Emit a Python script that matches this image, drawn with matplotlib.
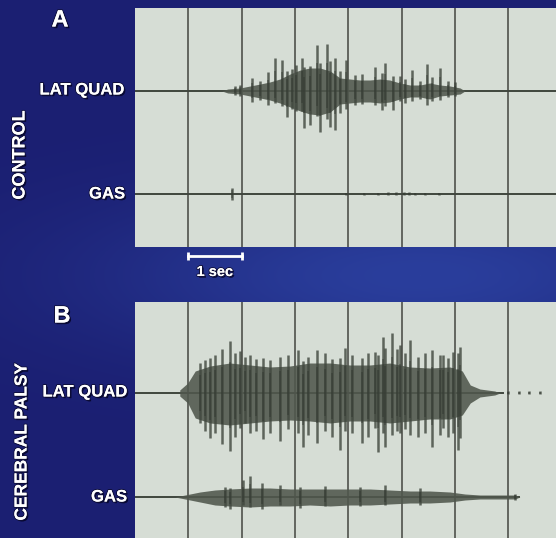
import numpy as np
import matplotlib
matplotlib.use('Agg')
import matplotlib.pyplot as plt
import matplotlib.patheffects as pe

# ---- data (time in s, amplitude in arbitrary units) ----
# Panel A, control, LAT QUAD: dense burst envelope
a_quad_t = [1.63, 1.74, 1.97, 2.16, 2.35, 2.53, 2.72, 2.91, 3.10, 3.28, 3.47, 3.66, 3.85,
            4.03, 4.22, 4.41, 4.60, 4.78, 4.97, 5.16, 5.35, 5.53, 5.72, 5.91, 6.10, 6.19]
a_quad_up = [0, 2, 3, 5, 7, 9, 12, 17, 21, 23, 23, 20, 13, 12, 11, 11, 12, 11, 8, 6, 6, 8, 6, 5, 3, 0]
a_quad_dn = [0, 2, 3, 5, 7, 9, 12, 16, 20, 23, 24, 21, 13, 12, 11, 11, 12, 11, 8, 6, 6, 8, 5, 4, 3, 0]
# spikes
a_quad_sp_t = [1.88, 1.97, 2.20, 2.35, 2.50, 2.63, 2.76, 2.85, 2.95, 3.02, 3.13, 3.17, 3.28, 3.41,
               3.47, 3.60, 3.66, 3.75, 3.85, 3.96, 4.13, 4.26, 4.50, 4.63, 4.69, 4.84, 4.97,
               5.07, 5.20, 5.35, 5.48, 5.57, 5.72, 5.87, 6.00]
a_quad_sp_up = [5, 6, 13, 10, 19, 33, 31, 20, 22, 26, 33, 24, 25, 46, 28, 47, 30, 33, 20, 31, 16,
                17, 24, 18, 28, 15, 15, 12, 21, 10, 27, 14, 23, 10, 9]
a_quad_sp_dn = [4, 5, 11, 9, 14, 12, 15, 26, 18, 20, 20, 37, 34, 25, 41, 28, 36, 39, 22, 18, 14,
                13, 14, 19, 15, 19, 10, 12, 10, 8, 14, 10, 9, 6, 5]

# Panel A, control, GAS: almost silent
a_gas_sp_t = [1.82, 3.95, 4.30, 4.55, 4.75, 4.90, 5.05, 5.15, 5.25, 5.45, 5.70]
a_gas_sp_up = [6, 1, 1, 1, 2, 2, 2, 2, 1, 1, 1]
a_gas_sp_dn = [6, 1, 1, 1, 1, 1, 1, 1, 1, 1, 1]

# Panel B, cerebral palsy, LAT QUAD
b_quad_t = [0.84, 0.99, 1.13, 1.41, 1.78, 2.16, 2.53, 2.91, 3.28, 3.66, 4.03, 4.41, 4.78,
            5.16, 5.53, 5.91, 6.14, 6.29, 6.47, 6.75, 6.85]
b_quad_up = [3, 10, 22, 27, 30, 28, 26, 27, 30, 30, 28, 28, 30, 26, 25, 26, 22, 8, 4, 2, 0]
b_quad_dn = [3, 10, 25, 30, 32, 30, 28, 27, 28, 30, 28, 28, 30, 28, 26, 26, 22, 10, 4, 2, 0]
b_quad_sp_t = [1.22, 1.31, 1.41, 1.50, 1.63, 1.78, 1.88, 1.97, 2.06, 2.16, 2.27, 2.40, 2.53,
               2.72, 2.87, 3.06, 3.15, 3.25, 3.41, 3.56, 3.70, 3.85, 3.94, 4.07, 4.26, 4.37,
               4.50, 4.56, 4.65, 4.69, 4.82, 4.92, 4.97, 5.07, 5.16, 5.31, 5.44, 5.57, 5.72,
               5.78, 5.87, 5.97, 6.06, 6.10, 7.0, 7.2, 7.4, 7.6]
b_quad_sp_up = [30, 33, 35, 38, 44, 52, 40, 42, 36, 38, 34, 35, 33, 36, 38, 43, 32, 36, 43, 40,
                34, 35, 45, 38, 35, 40, 41, 38, 56, 45, 60, 44, 48, 40, 53, 36, 40, 43, 38,
                38, 35, 41, 40, 46, 2, 2, 2, 2]
b_quad_sp_dn = [30, 38, 45, 40, 51, 58, 44, 35, 30, 40, 38, 46, 40, 48, 36, 40, 54, 42, 50, 38,
                44, 57, 38, 40, 50, 44, 35, 59, 40, 54, 42, 38, 40, 36, 42, 44, 40, 54, 42,
                35, 44, 40, 57, 45, 1, 1, 1, 1]

# Panel B, cerebral palsy, GAS
b_gas_t = [0.75, 0.94, 1.22, 1.50, 1.78, 2.16, 2.53, 2.91, 3.28, 3.66, 4.03, 4.41, 4.78,
           5.16, 5.53, 5.91, 6.19, 6.47, 6.85, 7.13, 7.22]
b_gas_up = [0, 2, 5, 7, 8, 9, 9, 8, 8, 8, 8, 8, 7, 6, 6, 5, 3, 2, 2, 2, 0]
b_gas_dn = [0, 2, 5, 8, 9, 10, 9, 9, 8, 9, 8, 8, 7, 6, 6, 5, 3, 2, 2, 2, 0]
b_gas_sp_t = [1.69, 1.78, 2.03, 2.16, 2.38, 2.72, 3.10, 3.56, 4.22, 4.69, 5.35, 7.13]
b_gas_sp_up = [10, 9, 17, 21, 14, 12, 10, 11, 10, 12, 9, 3]
b_gas_sp_dn = [10, 12, 8, 10, 12, 8, 11, 9, 9, 8, 8, 3]

# ---- layout ----
W, H = 556, 538
PX_PER_S = 53.3
PAPER = '#d6ddd5'
GRID = '#62655f'
CORE = '#50574d'
INK = '#3f463d'
WHITE = 'white'

fig = plt.figure(figsize=(W / 100, H / 100), dpi=100)

# navy background, a bit lighter between the two panels
bg = fig.add_axes([0, 0, 1, 1])
yy, xx = np.mgrid[0:H, 0:W]
glow = np.exp(-((xx - 420) ** 2 / (2 * 220 ** 2) + (yy - 275) ** 2 / (2 * 60 ** 2)))
dark = np.array([0x1b, 0x1f, 0x72]) / 255
light = np.array([0x2a, 0x3e, 0x9c]) / 255
img = dark + (light - dark) * glow[..., None]
bg.imshow(img, extent=[0, W, H, 0], aspect='auto')
bg.set_axis_off()

shadow = [pe.withSimplePatchShadow(offset=(1.2, -1.2), shadow_rgbFace='#05052a', alpha=0.9),
          pe.withStroke(linewidth=1.4, foreground='#10103a'), pe.Normal()]


def label(x, y, s, size, ha='center', rot=0):
    fig.text(x / W, 1 - y / H, s, color=WHITE, fontsize=size, fontweight='bold',
             family='Liberation Sans', ha=ha, va='center', rotation=rot, path_effects=shadow)


def panel(top, bot):
    ax = fig.add_axes([135 / W, 1 - bot / H, (W - 135) / W, (bot - top) / H])
    ax.set_xlim(0, (W - 135) / PX_PER_S)
    ax.set_ylim(bot - top, 0)
    ax.set_facecolor(PAPER)
    for t in range(1, 8):
        ax.axvline(t, color=GRID, lw=1.4, zorder=1)
    ax.set_xticks([])
    ax.set_yticks([])
    for s in ax.spines.values():
        s.set_visible(False)
    return ax


def trace(ax, base, t_end, core=None, spikes=None):
    ax.plot([0, t_end], [base, base], color=INK, lw=1.4, zorder=2)
    if core is not None:
        t, up, dn = core
        ax.fill_between(t, base - np.array(up), base + np.array(dn), color=CORE, lw=0,
                        alpha=0.88, zorder=3)
    if spikes is not None:
        t, up, dn = spikes
        ax.vlines(t, base - np.array(up), base + np.array(dn), color=INK, lw=1.8, alpha=0.8, zorder=4)
        ax.vlines(t, base - 0.6 * np.array(up), base + 0.6 * np.array(dn), color='#2f342d',
                  lw=1.1, alpha=0.5, zorder=5)


# panel A: control
axA = panel(8, 247)
trace(axA, 83, 8, (a_quad_t, a_quad_up, a_quad_dn), (a_quad_sp_t, a_quad_sp_up, a_quad_sp_dn))
trace(axA, 186, 8, None, (a_gas_sp_t, a_gas_sp_up, a_gas_sp_dn))

# 1 sec scale bar under panel A
axA.plot([1, 2], [248, 248], color=WHITE, lw=2, clip_on=False)
axA.vlines([1, 2], 244, 252, color=WHITE, lw=2, clip_on=False)
axA.text(1.5, 264, '1 sec', color=WHITE, fontsize=10.5, fontweight='bold', family='Liberation Sans',
         ha='center', va='center', clip_on=False, path_effects=shadow)

# panel B: cerebral palsy
axB = panel(302, 538)
trace(axB, 91, 6.9, (b_quad_t, b_quad_up, b_quad_dn), (b_quad_sp_t, b_quad_sp_up, b_quad_sp_dn))
trace(axB, 195, 7.2, (b_gas_t, b_gas_up, b_gas_dn), (b_gas_sp_t, b_gas_sp_up, b_gas_sp_dn))

label(60, 20, 'A', 17)
label(62, 316, 'B', 17)
label(124, 90, 'LAT QUAD', 12, ha='right')
label(125, 194, 'GAS', 12, ha='right')
label(127, 392, 'LAT QUAD', 12, ha='right')
label(127, 497, 'GAS', 12, ha='right')
label(20, 155, 'CONTROL', 13, rot=90)
label(22, 442, 'CEREBRAL PALSY', 12.5, rot=90)

fig.savefig('out.png', dpi=100)
